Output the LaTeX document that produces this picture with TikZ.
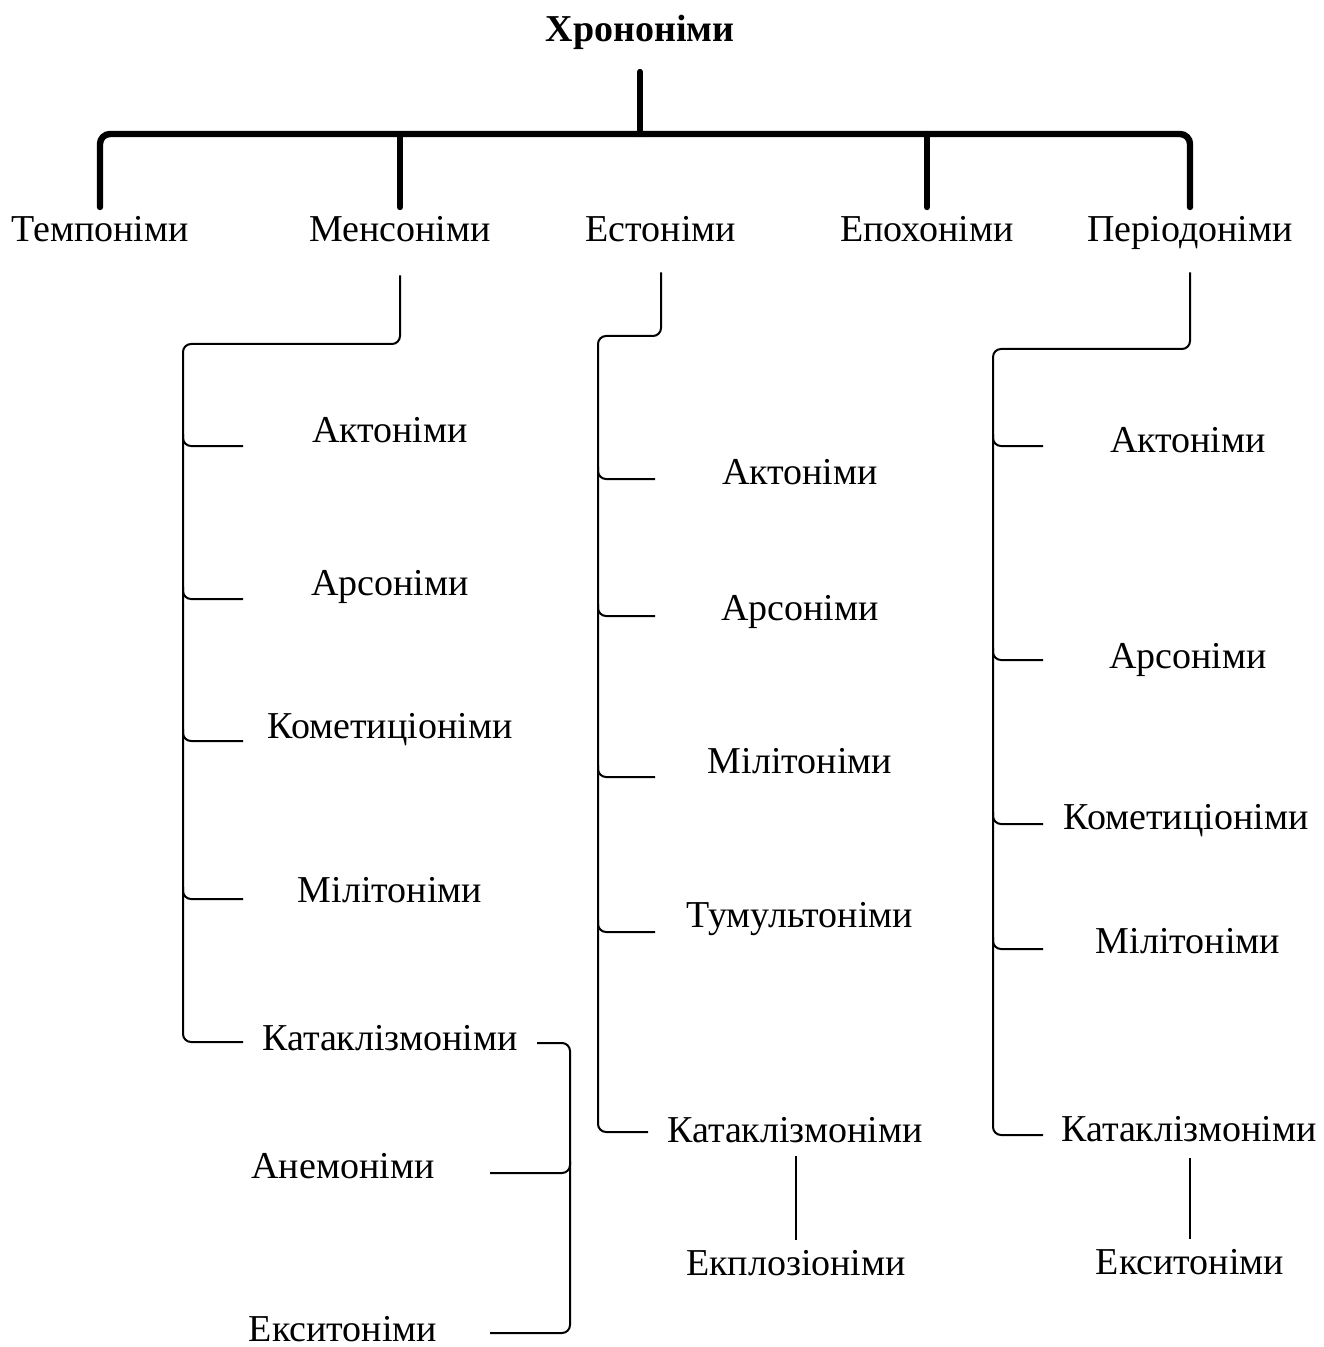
\documentclass[tikz,border=0pt]{standalone}
\usepackage{fontspec}
\setmainfont{Liberation Serif}
\usetikzlibrary{calc}
\begin{document}
\begin{tikzpicture}[x=0.5pt,y=-0.5pt,
  lbl/.style={font=\fontsize{19}{23}\selectfont, inner sep=0pt, text height=12.6pt, text depth=0pt, anchor=center},
  ttl/.style={lbl, font=\fontsize{19}{23}\selectfont\bfseries},
  thickln/.style={line width=3.2pt, line cap=round, rounded corners=5pt},
  thinln/.style={line width=1pt, rounded corners=4pt}]
\useasboundingbox (0,0) rectangle (1323,1347);
% title and first level
\node[ttl] (chron) at (640,29) {Хрононіми};
\node[lbl] (temp) at (100,229) {Темпоніми};
\node[lbl] (men)  at (400,229) {Менсоніми};
\node[lbl] (est)  at (661,229) {Естоніми};
\node[lbl] (epo)  at (927,229) {Епохоніми};
\node[lbl] (per)  at (1190,229) {Періодоніми};
\coordinate (bar) at (640,134);
\draw[thickln, shorten <=15pt] (chron.south) -- (bar);
\draw[thickln, shorten <=4.5pt, shorten >=4.5pt] (temp.north) |- (bar) -| (per.north);
\draw[thickln, shorten <=4.5pt] (men.north) -- (men.north |- bar);
\draw[thickln, shorten <=4.5pt] (epo.north) -- (epo.north |- bar);
% Mensonimy branch
\node[lbl] (m1) at (390,430) {Актоніми};
\node[lbl] (m2) at (390,583) {Арсоніми};
\node[lbl] (m3) at (390,726) {Кометиціоніми};
\node[lbl] (m4) at (390,890) {Мілітоніми};
\node[lbl] (m5) at (390,1038) {Катаклізмоніми};
\node[lbl] (m6) at (343,1166) {Анемоніми};
\node[lbl] (m7) at (343,1329) {Екситоніми};
\coordinate (mtop) at (183,344);
\coordinate (ms1) at (243,446);
\coordinate (ms2) at (243,599);
\coordinate (ms3) at (243,741);
\coordinate (ms4) at (243,899);
\coordinate (ms5) at (243,1042);
\draw[thinln, shorten <=16.7pt] (men.south) |- (mtop) |- (ms5);
\foreach \s in {ms1,ms2,ms3,ms4}
  \draw[thinln] ($(\s -| mtop)+(0,-12)$) |- (\s);
\coordinate (kr) at (537,1043);
\coordinate (bx) at (570,1043);
\coordinate (ar) at (490,1173);
\coordinate (er) at (490,1333);
\draw[thinln] (kr) -- (bx) |- (er);
\draw[thinln] ($(ar -| bx)+(0,-12)$) |- (ar);
% Estonimy branch
\node[lbl] (e1) at (800,472) {Актоніми};
\node[lbl] (e2) at (800,608) {Арсоніми};
\node[lbl] (e3) at (800,761) {Мілітоніми};
\node[lbl] (e4) at (800,915) {Тумультоніми};
\node[lbl] (e5) at (795,1130) {Катаклізмоніми};
\node[lbl] (e6) at (796,1263) {Екплозіоніми};
\coordinate (etop) at (598,336);
\coordinate (es1) at (655,479);
\coordinate (es2) at (655,616);
\coordinate (es3) at (655,777);
\coordinate (es4) at (655,932);
\coordinate (es5) at (648,1132);
\draw[thinln, shorten <=15.2pt] (est.south) |- (etop) |- (es5);
\foreach \s in {es1,es2,es3,es4}
  \draw[thinln] ($(\s -| etop)+(0,-12)$) |- (\s);
\draw[thinln, shorten <=6.7pt, shorten >=5pt] (e5.south -| e6) -- (e6.north);
% Periodonimy branch
\node[lbl] (p1) at (1188,440) {Актоніми};
\node[lbl] (p2) at (1188,656) {Арсоніми};
\node[lbl] (p3) at (1186,817) {Кометиціоніми};
\node[lbl] (p4) at (1188,941) {Мілітоніми};
\node[lbl] (p5) at (1189,1129) {Катаклізмоніми};
\node[lbl] (p6) at (1190,1262) {Екситоніми};
\coordinate (ptop) at (993,349);
\coordinate (ps1) at (1043,446);
\coordinate (ps2) at (1043,660);
\coordinate (ps3) at (1043,824);
\coordinate (ps4) at (1043,949);
\coordinate (ps5) at (1043,1135);
\draw[thinln, shorten <=15.2pt] (per.south) |- (ptop) |- (ps5);
\foreach \s in {ps1,ps2,ps3,ps4}
  \draw[thinln] ($(\s -| ptop)+(0,-12)$) |- (\s);
\draw[thinln, shorten <=8pt, shorten >=5pt] (p5.south -| per) -- (p6.north -| per);
\end{tikzpicture}
\end{document}
